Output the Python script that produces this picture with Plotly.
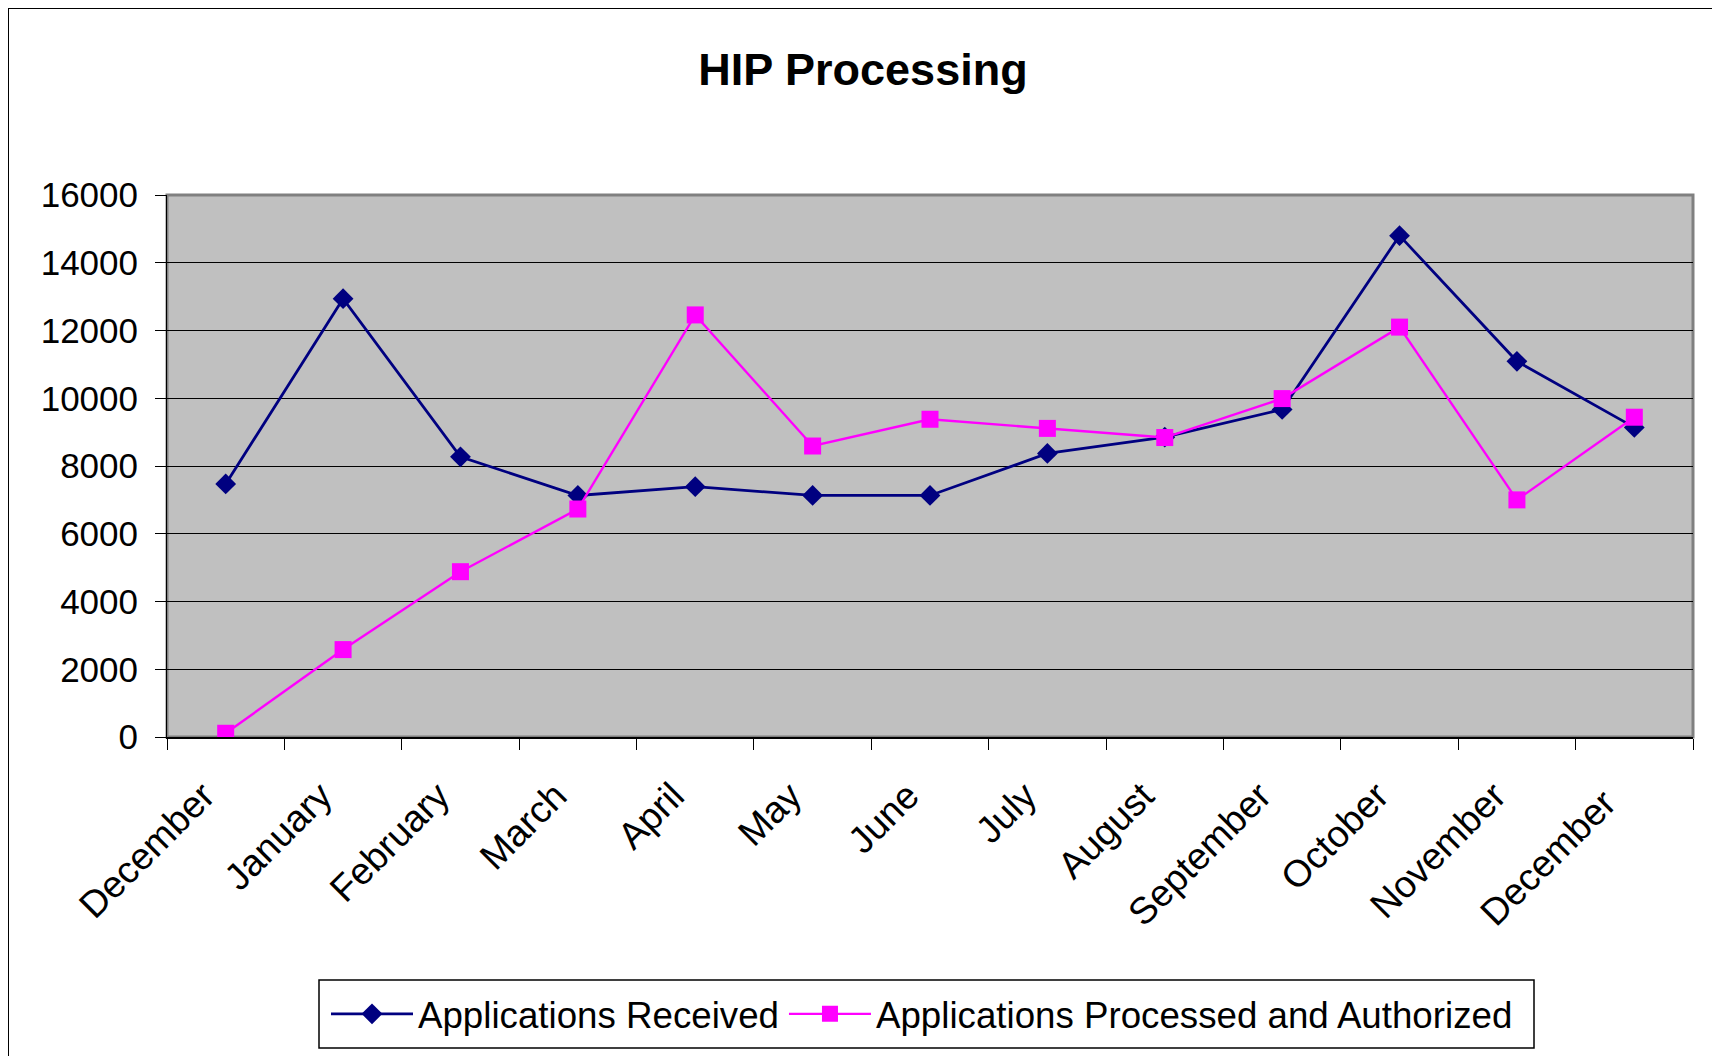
import plotly.graph_objects as go

months = ["December", "January", "February", "March", "April", "May", "June",
          "July", "August", "September", "October", "November", "December "]
received = [7470, 12940, 8270, 7130, 7390, 7130, 7130, 8370, 8850, 9670, 14800, 11090, 9140]
processed = [110, 2580, 4880, 6730, 12460, 8590, 9380, 9110, 8840, 9990, 12100, 7000, 9440]

# page body has an 8px margin, so the figure is shifted by that much
W, H = 1712, 1048
ML, MR, MT, MB = 159, 27, 187, 319
pw, ph = W - ML - MR, H - MT - MB
FONT = "Liberation Sans, Arial, sans-serif"


def px_x(v):
    return (v - ML) / pw


def px_y(v):
    return (MT + ph - v) / ph


fig = go.Figure()
fig.add_trace(go.Scatter(
    x=months, y=received, name="Applications Received", mode="lines+markers",
    line=dict(color="#000080", width=2.8),
    marker=dict(symbol="diamond", size=16, color="#000080"),
))
fig.add_trace(go.Scatter(
    x=months, y=processed, name="Applications Processed and Authorized", mode="lines+markers",
    line=dict(color="#FF00FF", width=2.4),
    marker=dict(symbol="square", size=17, color="#FF00FF"),
))

# plot area border (gray), outer chart border and legend box (black)
fig.add_shape(type="rect", xref="paper", yref="paper", x0=0, x1=1, y0=0, y1=1,
              line=dict(color="#808080", width=3), layer="below")
fig.add_shape(type="rect", xref="paper", yref="paper",
              x0=px_x(0), x1=px_x(1709), y0=px_y(1090), y1=px_y(0),
              line=dict(color="#000000", width=2))
fig.add_shape(type="rect", xref="paper", yref="paper",
              x0=px_x(311), x1=px_x(1526), y0=px_y(1040), y1=px_y(972),
              line=dict(color="#000000", width=1.5), fillcolor="white", layer="below")

fig.update_layout(
    width=W, height=H,
    margin=dict(l=ML, r=MR, t=MT, b=MB, autoexpand=False),
    paper_bgcolor="white", plot_bgcolor="#C0C0C0",
    font=dict(family=FONT, color="black", size=36),
    title=dict(text="<b>HIP Processing</b>", x=855 / W, xanchor="center",
               y=1 - 61 / H, yanchor="middle", font=dict(size=45, family=FONT)),
    showlegend=True,
    legend=dict(orientation="h", x=px_x(318), xanchor="left", y=px_y(1006),
                yanchor="middle", bgcolor="rgba(0,0,0,0)", borderwidth=0,
                font=dict(size=36.7, family=FONT), itemwidth=82, tracegroupgap=0),
    xaxis=dict(type="category", range=[-0.5, 12.5], tickson="boundaries",
               ticks="outside", ticklen=11, tickcolor="black", tickwidth=1,
               showline=True, linecolor="black", linewidth=1.5, showgrid=False,
               tickangle=-45, tickfont=dict(size=37.5, family=FONT),
               ticklabelstandoff=20, ticklabelshift=-22),
    yaxis=dict(range=[0, 16000], dtick=2000, tickformat="d", ticks="outside", ticklen=11,
               tickcolor="black", showline=True, linecolor="black", linewidth=1,
               showgrid=True, gridcolor="black", gridwidth=1, zeroline=False,
               tickfont=dict(size=35, family=FONT), ticklabelstandoff=10),
)

fig.write_html("out.html")
